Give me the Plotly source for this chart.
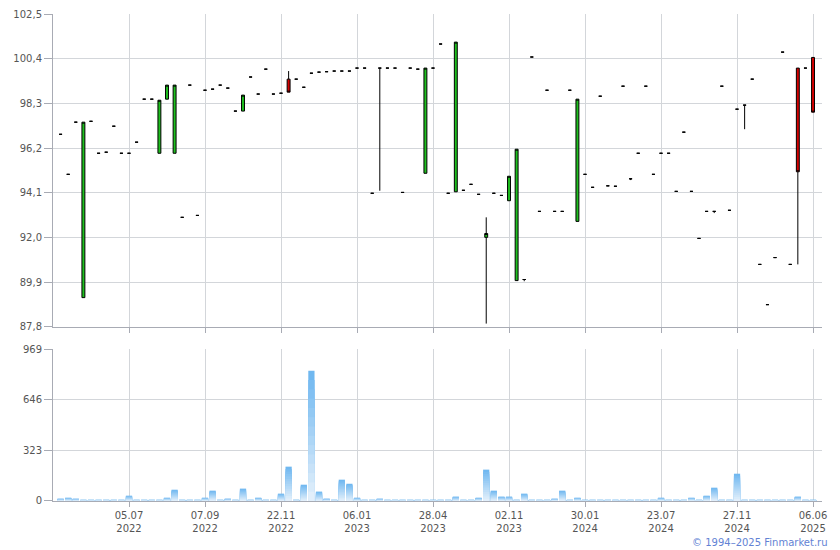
import plotly.graph_objects as go

# ---- data (weekly candles, 100 periods) ----
idx = list(range(100))

opens = [96.85, 94.97, 97.42, 89.18, 97.46, 95.96, 96.01, 97.23, 95.96, 95.96,
         96.48, 98.50, 98.50, 95.96, 98.50, 95.96, 92.95, 99.16, 93.04, 98.92,
         98.97, 99.16, 99.02, 97.94, 97.94, 99.54, 98.74, 99.91, 98.74, 98.78,
         99.44, 99.44, 99.06, 99.72, 99.77, 99.79, 99.82, 99.82, 99.82, 99.96,
         99.96, 94.08, 99.96, 99.96, 99.96, 94.12, 99.96, 99.91, 95.02, 99.96,
         101.09, 94.08, 94.15, 94.22, 94.50, 94.03, 92.01, 94.08, 93.98, 93.73,
         89.98, 90.03, 100.48, 93.23, 98.92, 93.23, 93.23, 98.92, 92.76, 94.97,
         94.36, 98.64, 94.43, 94.41, 99.11, 94.76, 95.96, 99.11, 94.97, 95.96,
         95.96, 94.17, 96.95, 94.17, 91.96, 93.23, 93.23, 99.11, 93.28, 98.03,
         98.22, 99.44, 90.74, 88.85, 91.06, 100.71, 90.74, 99.96, 99.96, 100.46]

highs = [96.85, 94.97, 97.42, 97.42, 97.46, 95.96, 96.01, 97.23, 95.96, 95.96,
         96.48, 98.50, 98.50, 98.45, 99.16, 99.16, 92.95, 99.16, 93.04, 98.92,
         98.97, 99.16, 99.02, 97.94, 98.69, 99.54, 98.74, 99.91, 98.74, 98.78,
         99.82, 99.44, 99.06, 99.72, 99.77, 99.79, 99.82, 99.82, 99.82, 99.96,
         99.96, 94.08, 99.96, 99.96, 99.96, 94.12, 99.96, 99.91, 99.96, 99.96,
         101.09, 94.08, 101.18, 94.22, 94.50, 94.03, 92.95, 94.08, 93.98, 94.88,
         96.15, 90.03, 100.48, 93.23, 98.92, 93.23, 93.23, 98.92, 98.50, 94.97,
         94.36, 98.64, 94.43, 94.41, 99.11, 94.76, 95.96, 99.11, 94.97, 95.96,
         95.96, 94.17, 96.95, 94.17, 91.96, 93.23, 93.23, 99.11, 93.28, 98.03,
         98.22, 99.44, 90.74, 88.85, 91.06, 100.71, 90.74, 99.96, 99.96, 100.46]

lows = [96.85, 94.97, 97.42, 89.18, 97.46, 95.96, 96.01, 97.23, 95.96, 95.96,
        96.48, 98.50, 98.50, 95.96, 98.50, 95.96, 92.95, 99.16, 93.04, 98.92,
        98.97, 99.16, 99.02, 97.94, 97.94, 99.54, 98.74, 99.91, 98.74, 98.78,
        98.83, 99.44, 99.06, 99.72, 99.77, 99.79, 99.82, 99.82, 99.82, 99.96,
        99.96, 94.08, 94.20, 99.96, 99.96, 94.12, 99.96, 99.91, 95.02, 99.96,
        101.09, 94.08, 94.15, 94.22, 94.50, 94.03, 87.96, 94.08, 93.98, 93.73,
        89.98, 89.95, 100.48, 93.23, 98.92, 93.23, 93.23, 98.92, 92.76, 94.97,
        94.36, 98.64, 94.43, 94.41, 99.11, 94.70, 95.96, 99.11, 94.97, 95.96,
        95.96, 94.17, 96.95, 94.17, 91.96, 93.23, 93.15, 99.11, 93.28, 98.03,
        97.09, 99.44, 90.74, 88.85, 91.06, 100.71, 90.74, 90.74, 99.96, 97.89]

closes = [96.85, 94.97, 97.42, 97.42, 97.46, 95.96, 96.01, 97.23, 95.96, 95.96,
          96.48, 98.50, 98.50, 98.45, 99.16, 99.16, 92.95, 99.16, 93.04, 98.92,
          98.97, 99.16, 99.02, 97.94, 98.69, 99.54, 98.74, 99.91, 98.74, 98.78,
          98.83, 99.44, 99.06, 99.72, 99.77, 99.79, 99.82, 99.82, 99.82, 99.96,
          99.96, 94.08, 99.96, 99.96, 99.96, 94.12, 99.96, 99.91, 99.96, 99.96,
          101.09, 94.08, 101.18, 94.22, 94.50, 94.03, 92.19, 94.08, 93.98, 94.88,
          96.15, 90.03, 100.48, 93.23, 98.92, 93.23, 93.23, 98.92, 98.50, 94.97,
          94.36, 98.64, 94.43, 94.41, 99.11, 94.76, 95.96, 99.11, 94.97, 95.96,
          95.96, 94.17, 96.95, 94.17, 91.96, 93.23, 93.23, 99.11, 93.28, 98.03,
          98.22, 99.44, 90.74, 88.85, 91.06, 100.71, 90.74, 95.09, 99.96, 97.89]

volumes = [15, 21, 15, 8, 8, 8, 8, 8, 8, 34,
           8, 8, 8, 8, 21, 72, 8, 8, 8, 21,
           66, 8, 15, 8, 79, 8, 21, 8, 8, 47,
           219, 8, 104, 831, 60, 15, 8, 136, 110, 21,
           8, 8, 15, 8, 8, 8, 8, 8, 8, 8,
           8, 8, 28, 8, 8, 21, 200, 66, 28, 28,
           8, 47, 8, 8, 8, 15, 66, 8, 21, 8,
           8, 8, 8, 8, 8, 8, 8, 8, 8, 21,
           8, 8, 8, 21, 8, 34, 85, 8, 8, 174,
           8, 8, 8, 8, 8, 8, 8, 28, 8, 8]

tick_pos = [9, 19, 29, 39, 49, 59, 69, 79, 89, 99]
tick_labels = ["05.07<br>2022", "07.09<br>2022", "22.11<br>2022", "06.01<br>2023",
               "28.04<br>2023", "02.11<br>2023", "30.01<br>2024", "23.07<br>2024",
               "27.11<br>2024", "06.06<br>2025"]

price_ticks = [87.8, 89.9, 92.0, 94.1, 96.2, 98.3, 100.4, 102.5]
price_labels = ["87,8", "89,9", "92,0", "94,1", "96,2", "98,3", "100,4", "102,5"]
vol_ticks = [0, 323, 646, 969]
vol_labels = ["0", "323", "646", "969"]

# ---- figure ----
fig = go.Figure()

fig.add_trace(go.Candlestick(
    x=idx, open=opens, high=highs, low=lows, close=closes,
    increasing=dict(fillcolor="#1ec01e", line=dict(color="#000000", width=1)),
    decreasing=dict(fillcolor="#d40000", line=dict(color="#000000", width=1)),
    xaxis="x", yaxis="y", hoverinfo="skip", showlegend=False,
))

# volume bars with a vertical gradient (dark top -> light bottom) built from overlaid layers
N = 14
top_c = (112, 184, 240)
bot_c = (226, 239, 251)
for k in range(N, 0, -1):
    t = (k - 1) / (N - 1)
    c = tuple(round(bot_c[j] + (top_c[j] - bot_c[j]) * t) for j in range(3))
    fig.add_trace(go.Bar(
        x=idx, y=[v * k / N for v in volumes],
        marker=dict(color="rgb(%d,%d,%d)" % c, line=dict(width=0)),
        xaxis="x2", yaxis="y2", hoverinfo="skip", showlegend=False,
    ))

axis_col = "#a8abb4"
grid_col = "#d3d6da"
font_col = "#555555"
xr = [-1.0, 100.18]

common = dict(ticks="outside", tickcolor=axis_col,
              showgrid=True, gridcolor=grid_col, gridwidth=1,
              showline=True, linecolor=axis_col, linewidth=1,
              zeroline=False, fixedrange=True, automargin=False)

fig.update_layout(
    width=840, height=550,
    margin=dict(l=53, r=18, t=14, b=49, autoexpand=False),
    paper_bgcolor="white", plot_bgcolor="white",
    font=dict(family="Verdana, DejaVu Sans, sans-serif", size=10, color=font_col),
    barmode="overlay", bargap=0.18, boxgap=0.45,
    showlegend=False, hovermode=False,
    xaxis=dict(domain=[0, 1], range=xr, anchor="y", tickvals=tick_pos,
               ticktext=[""] * len(tick_pos), showticklabels=False, ticklen=5,
               rangeslider=dict(visible=False), **common),
    yaxis=dict(domain=[0.3573, 1], range=[87.8, 102.5], anchor="x", ticklen=8,
               tickvals=price_ticks, ticktext=price_labels, **common),
    xaxis2=dict(domain=[0, 1], range=xr, anchor="y2", tickvals=tick_pos, ticklen=5,
                ticktext=tick_labels, **common),
    yaxis2=dict(domain=[0, 0.3121], range=[0, 969], anchor="x2", ticklen=8,
                tickvals=vol_ticks, ticktext=vol_labels, **common),
    annotations=[dict(text="© 1994–2025 Finmarket.ru", xref="paper", yref="paper",
                      x=1.0 + 8 / 769, y=-41 / 487, xanchor="right", yanchor="middle",
                      showarrow=False,
                      font=dict(family="Verdana, DejaVu Sans, sans-serif", size=10,
                                color="#6282d4"))],
)

fig.write_html("out.html",
               config={"displayModeBar": False, "staticPlot": True},
               post_script="document.body.style.margin='0px';"
                           "document.body.style.overflow='hidden';")
